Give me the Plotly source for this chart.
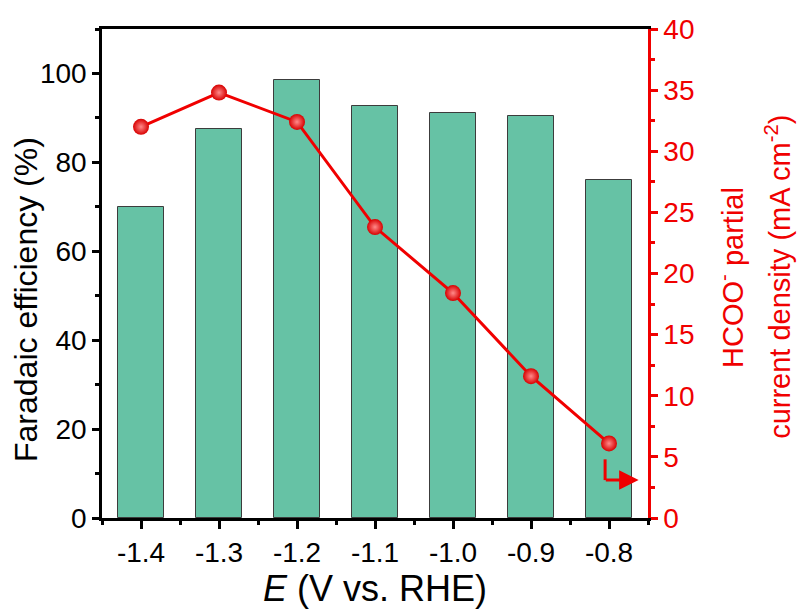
import plotly.graph_objects as go

# Applied potential (V vs. RHE)
potential = [-1.4, -1.3, -1.2, -1.1, -1.0, -0.9, -0.8]
# Formate Faradaic efficiency (%)
faradaic_eff = [70.0, 87.5, 98.5, 92.6, 91.0, 90.4, 76.0]
# HCOO- partial current density (mA cm-2)
partial_j = [32.0, 34.8, 32.4, 23.8, 18.4, 11.6, 6.1]

FONT = "Liberation Sans, Arial, sans-serif"
RED = "#f00000"
BAR = "#66c2a5"

fig = go.Figure()

fig.add_trace(go.Bar(
    x=potential, y=faradaic_eff, width=0.059,
    marker=dict(color=BAR, line=dict(color="#3c3c3c", width=1)),
    yaxis="y", showlegend=False, hoverinfo="x+y",
))

fig.add_trace(go.Scatter(
    x=potential, y=partial_j, yaxis="y2", mode="lines+markers",
    line=dict(color=RED, width=3),
    marker=dict(size=16, color="#d80000",
                gradient=dict(type="radial", color="#ff8a8a"),
                line=dict(width=0)),
    showlegend=False,
))

axis_common = dict(showgrid=False, zeroline=False, showline=True, linewidth=2.5,
                   ticks="outside", tickwidth=2.5,
                   tickfont=dict(family=FONT, size=28))

fig.update_layout(
    width=799, height=610,
    margin=dict(l=102, r=151, t=29, b=92),
    paper_bgcolor="white", plot_bgcolor="white",
    font=dict(family=FONT, color="black"),
    bargap=0,
    xaxis=dict(
        **axis_common, linecolor="black", tickcolor="black", mirror=True,
        range=[-1.45, -0.75], tickmode="array", tickvals=potential,
        ticktext=[f"{v:.1f}" for v in potential], ticklen=8,
        minor=dict(ticks="outside", dtick=0.1, tick0=-1.35, ticklen=4,
                   tickwidth=2.5, tickcolor="black"),
        title=dict(text="<i>E</i> (V vs. RHE)", font=dict(family=FONT, size=36),
                   standoff=4),
    ),
    yaxis=dict(
        **axis_common, linecolor="black", tickcolor="black",
        range=[0, 110], dtick=20, ticklen=7,
        minor=dict(ticks="outside", dtick=10, ticklen=4, tickwidth=2.5,
                   tickcolor="black"),
    ),
    yaxis2=dict(
        **axis_common, linecolor=RED, tickcolor=RED, color=RED,
        overlaying="y", side="right", anchor="x",
        range=[0, 40], dtick=5, ticklen=7,
        minor=dict(ticks="outside", dtick=2.5, ticklen=4, tickwidth=2.5,
                   tickcolor=RED),
    ),
)

# Left-axis title
fig.add_annotation(text="Faradaic efficiency (%)", xref="paper", yref="paper",
                   x=-0.139, y=0.446, xanchor="center", yanchor="middle",
                   textangle=-90, showarrow=False,
                   font=dict(family=FONT, size=32, color="black"))

# Right-axis title, two lines
fig.add_annotation(text="HCOO<sup>-</sup> partial", xref="paper", yref="paper",
                   x=1.152, y=0.493, xanchor="center", yanchor="middle",
                   textangle=-90, showarrow=False,
                   font=dict(family=FONT, size=29, color=RED))
fig.add_annotation(text="current density (mA cm<sup>-2</sup>)", xref="paper",
                   yref="paper", x=1.238, y=0.493, xanchor="center",
                   yanchor="middle", textangle=-90, showarrow=False,
                   font=dict(family=FONT, size=29, color=RED))

# L-shaped arrow pointing the line series to the right axis
fig.add_shape(type="line", xref="x", yref="y2", x0=-0.805, x1=-0.805,
              y0=4.8, y1=3.1, line=dict(color=RED, width=3))
fig.add_annotation(x=-0.762, y=3.1, ax=-0.806, ay=3.1, xref="x", yref="y2",
                   axref="x", ayref="y2", text="", showarrow=True,
                   arrowhead=2, arrowsize=1.3, arrowwidth=3, arrowcolor=RED)

fig.write_html("out.html")
